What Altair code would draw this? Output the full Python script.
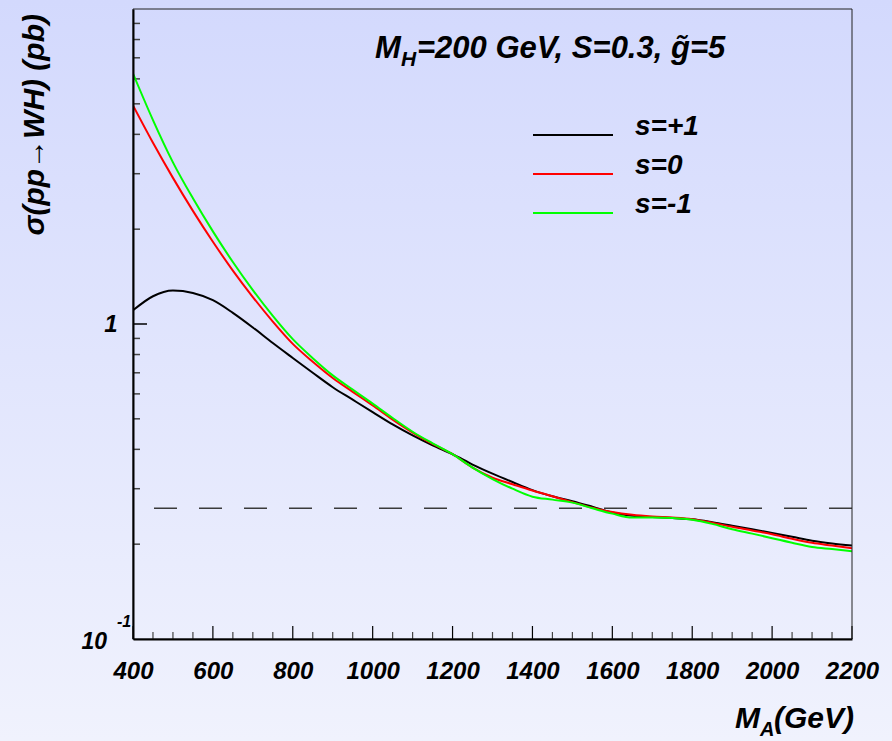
import altair as alt
import pandas as pd

# ---------------- data ----------------
mass = [400, 450, 500, 550, 600, 650, 700, 750, 800, 850, 900, 950, 1000,
        1050, 1100, 1150, 1200, 1250, 1300, 1350, 1400, 1450, 1500, 1550,
        1600, 1650, 1700, 1750, 1800, 1850, 1900, 1950, 2000, 2050, 2100,
        2150, 2200]

sigma_s_plus1 = [1.105, 1.225, 1.277, 1.255, 1.19, 1.085, 0.975, 0.87, 0.78, 0.70,
                 0.63, 0.575, 0.525, 0.48, 0.443, 0.412, 0.386, 0.358, 0.335,
                 0.315, 0.297, 0.284, 0.274, 0.263, 0.252, 0.246, 0.244, 0.242,
                 0.240, 0.235, 0.229, 0.223, 0.217, 0.211, 0.205, 0.201, 0.198]

sigma_s_zero = [4.94, 3.76, 2.91, 2.286, 1.824, 1.478, 1.218, 1.018, 0.865, 0.759,
                0.674, 0.609, 0.551, 0.497, 0.452, 0.416, 0.386, 0.350, 0.325,
                0.310, 0.296, 0.284, 0.272, 0.261, 0.253, 0.248, 0.245, 0.243,
                0.240, 0.234, 0.227, 0.221, 0.215, 0.208, 0.202, 0.198, 0.194]

sigma_s_minus1 = [6.24, 4.44, 3.26, 2.506, 1.968, 1.573, 1.281, 1.061, 0.895, 0.779,
                  0.687, 0.619, 0.559, 0.503, 0.455, 0.418, 0.386, 0.350, 0.322,
                  0.300, 0.283, 0.277, 0.271, 0.260, 0.250, 0.243, 0.243, 0.242,
                  0.239, 0.232, 0.223, 0.216, 0.209, 0.202, 0.196, 0.193, 0.190]

series_names = ["s=+1", "s=0", "s=-1"]
series_colors = ["#000000", "#ff0000", "#00ff00"]
reference_level = [0.26]

x_major = [400, 600, 800, 1000, 1200, 1400, 1600, 1800, 2000, 2200]
x_minor = [v for v in range(400, 2201, 50) if v % 200 != 0]
y_major = [1]
y_minor = [0.2, 0.3, 0.4, 0.5, 0.6, 0.7, 0.8, 0.9, 2, 3, 4, 5, 6, 7, 8, 9]

header_text = "=200 GeV, S=0.3, g\u0303=5"
y_title = "\u03c3(pp\u2192WH) (pb)"

# ---------------- layout ----------------
W, H = 719, 630
PAD_L, PAD_T, PAD_R, PAD_B = 133, 9, 40, 102
FONT = "Liberation Sans"

rows = []
for name, vals in zip(series_names, [sigma_s_plus1, sigma_s_zero, sigma_s_minus1]):
    for m, v in zip(mass, vals):
        rows.append({"mass": m, "sigma": v, "series": name})
df = pd.DataFrame(rows)
one = pd.DataFrame({"k": [0]})

xscale = alt.Scale(domain=[400, 2200], nice=False, zero=False)
yscale = alt.Scale(type="log", domain=[0.1, 10], nice=False)
cscale = alt.Scale(domain=series_names, range=series_colors)

txt = dict(font=FONT, fontStyle="italic", fontWeight="bold", color="black")

bg = alt.Chart(one).mark_rect(
    color=alt.Gradient(
        gradient="linear",
        stops=[alt.GradientStop(color="#d3d9fd", offset=0),
               alt.GradientStop(color="#f0f2fd", offset=1)],
        x1=0, x2=0, y1=0, y2=1,
    )
).encode(x=alt.value(-PAD_L), x2=alt.value(W + PAD_R),
         y=alt.value(-PAD_T), y2=alt.value(H + PAD_B))

lines = alt.Chart(df).mark_line(strokeWidth=2, interpolate="monotone", clip=True).encode(
    x=alt.X("mass:Q", scale=xscale,
            axis=alt.Axis(values=x_major, ticks=False, grid=False, title=None,
                          labelFont=FONT, labelFontSize=24, labelFontStyle="italic",
                          labelFontWeight="bold", labelColor="black", labelPadding=20,
                          domainColor="black", domainWidth=2, zindex=1, format="d",
                          labelFlush=False, labelOverlap=False)),
    y=alt.Y("sigma:Q", scale=yscale,
            axis=alt.Axis(values=y_major, ticks=False, grid=False, title=None,
                          labelFont=FONT, labelFontSize=24, labelFontStyle="italic",
                          labelFontWeight="bold", labelColor="black", labelPadding=16,
                          domainColor="black", domainWidth=2, zindex=1,
                          labelExpr="'1'")),
    color=alt.Color("series:N", scale=cscale, legend=None),
)

dash = alt.Chart(pd.DataFrame({"y": reference_level})).mark_rule(
    strokeDash=[23, 22], color="#3a3a3a", strokeWidth=1.5
).encode(y=alt.Y("y:Q", scale=yscale))

ytick_minor = alt.Chart(pd.DataFrame({"v": y_minor})).mark_rule(color="#444", strokeWidth=1.5).encode(
    y=alt.Y("v:Q", scale=yscale), x=alt.value(0), x2=alt.value(7))
ytick_major = alt.Chart(pd.DataFrame({"v": y_major})).mark_rule(color="black", strokeWidth=1.5).encode(
    y=alt.Y("v:Q", scale=yscale), x=alt.value(0), x2=alt.value(14))
xtick_minor = alt.Chart(pd.DataFrame({"v": x_minor})).mark_rule(color="#444", strokeWidth=1.2).encode(
    x=alt.X("v:Q", scale=xscale), y=alt.value(H), y2=alt.value(H - 7))
xtick_major = alt.Chart(pd.DataFrame({"v": x_major})).mark_rule(color="black", strokeWidth=1.2).encode(
    x=alt.X("v:Q", scale=xscale), y=alt.value(H), y2=alt.value(H - 13))

frame = alt.Chart(one).mark_rect(fillOpacity=0, stroke="#222", strokeWidth=1).encode(
    x=alt.value(0), x2=alt.value(W), y=alt.value(0), y2=alt.value(H))

def label(text, x, y, size, align="left", baseline="alphabetic", angle=0):
    kw = dict(txt)
    if angle:
        kw["angle"] = angle
    return alt.Chart(one).mark_text(text=text, fontSize=size, align=align,
                                    baseline=baseline, **kw).encode(
        x=alt.value(x), y=alt.value(y))

texts = [
    # header
    label("M", 242, 49, 31),
    label("H", 268, 57, 21),
    label(header_text, 284, 49, 31),
    # axis titles
    label(y_title, -98, 5, 30, align="right", baseline="middle", angle=270),
    label("M", 602, 719, 30),
    label("A", 627, 727, 20),
    label("(GeV)", 641, 719, 30),
    # 10^-1 label
    label("10", -26, 640, 23, align="right"),
    label("-1", -16, 618, 16),
]

legend_layers = []
for i, (name, col) in enumerate(zip(series_names, series_colors)):
    yy = 126 + 39 * i
    legend_layers.append(
        alt.Chart(one).mark_rule(color=col, strokeWidth=2).encode(
            x=alt.value(400), x2=alt.value(480), y=alt.value(yy)))
    legend_layers.append(label(name, 502, yy, 28))

chart = alt.layer(
    bg, dash, ytick_minor, ytick_major, xtick_minor, xtick_major, lines, frame,
    *texts, *legend_layers
).properties(
    width=W, height=H,
    autosize=alt.AutoSizeParams(type="none"),
    padding={"left": PAD_L, "top": PAD_T, "right": PAD_R, "bottom": PAD_B},
    background="#e2e6fc",
).configure_view(strokeWidth=0)

chart.save("out.html", embed_options={"renderer": "svg", "actions": False})
